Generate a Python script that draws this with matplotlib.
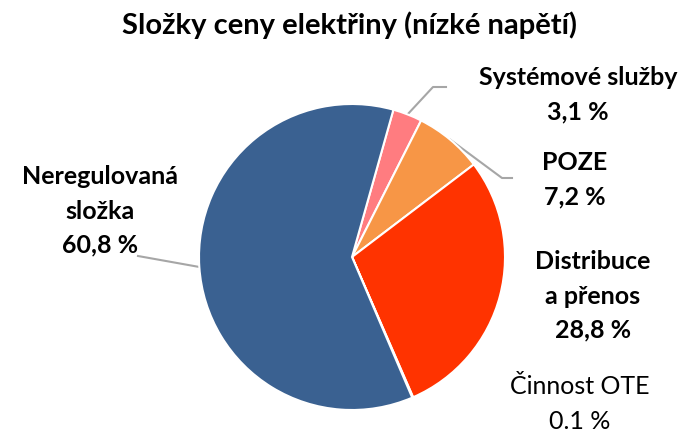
import matplotlib.pyplot as plt
import numpy as np

# data
labels = ["Systémové služby", "POZE", "Distribuce\na přenos", "Činnost OTE", "Neregulovaná\nsložka"]
values = [3.1, 7.2, 28.8, 0.1, 60.8]
value_text = ["3,1 %", "7,2 %", "28,8 %", "0.1 %", "60,8 %"]
colors = ["#FF7C80", "#F79646", "#FF3300", "#A5A5A5", "#3A6191"]

W, H = 698, 436
plt.rcParams['font.family'] = ['Lato', 'DejaVu Sans']

fig = plt.figure(figsize=(W / 100, H / 100), dpi=100)
ax = fig.add_axes([0, 0, 1, 1])


def py(y):
    # pixel row -> data y
    return H - y


cx, cy, r = 352, py(257), 153
wedges, _ = ax.pie(values, colors=colors, startangle=74.3, counterclock=False,
                   center=(cx, cy), radius=r, frame=True,
                   wedgeprops=dict(edgecolor='white', linewidth=1.5))
ax.set_xlim(0, W)
ax.set_ylim(0, H)
ax.set_aspect('equal')
ax.axis('off')

ax.text(W / 2, py(25), "Složky ceny elektřiny (nízké napětí)", ha='center', va='center',
        fontsize=21, fontweight='bold', color='black')

# label positions (pixel coords of text centre) and leader line elbows
lab_pos = [(578, 95), (575, 180), (593, 296), (580, 404), (100, 211)]
leaders = {0: [(433, 87), (446, 87)], 1: [(502, 178), (512, 178)], 4: [(138, 256)]}

for i, w in enumerate(wedges):
    x, y = lab_pos[i]
    bold = i != 3
    ax.text(x, py(y), labels[i] + "\n" + value_text[i], ha='center', va='center',
            fontsize=18, fontweight='bold' if bold else 'normal', color='black',
            linespacing=1.6)
    if i in leaders:
        mid = np.deg2rad((w.theta1 + w.theta2) / 2)
        pts = [(cx + r * np.cos(mid), cy + r * np.sin(mid))]
        pts += [(px, py(pyy)) for px, pyy in leaders[i]]
        xs, ys = zip(*pts)
        ax.plot(xs, ys, color='#A6A6A6', linewidth=1.5, zorder=0)

fig.savefig("out.png", dpi=100)
